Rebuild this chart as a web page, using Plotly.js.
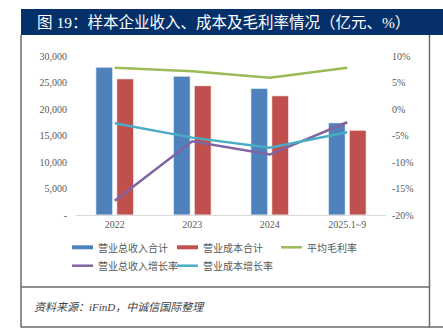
<!DOCTYPE html>
<html>
<head>
<meta charset="utf-8">
<script src="https://cdn.plot.ly/plotly-3.0.1.min.js"></script>
<style>
html,body{margin:0;padding:0;background:#fff;}
#chart{width:443px;height:329px;}
</style>
</head>
<body>
<div id="chart"></div>
<script>
// ---- data ----
const categories = ["2022", "2023", "2024", "2025.1~9"];
const revenueTotal = [27900, 26200, 23900, 17400];      // 营业总收入合计 (亿元)
const costTotal = [25700, 24400, 22500, 16000];         // 营业成本合计 (亿元)
const grossMargin = [7.8, 7.1, 5.9, 7.8];               // 平均毛利率 (%)
const revenueGrowth = [-17.3, -6.1, -8.6, -2.5];        // 营业总收入增长率 (%)
const costGrowth = [-2.7, -5.4, -7.3, -4.4];            // 营业成本增长率 (%)
const seriesNames = ["营业总收入合计", "营业成本合计", "平均毛利率", "营业总收入增长率", "营业成本增长率"];
const leftTickVals = [0, 5000, 10000, 15000, 20000, 25000, 30000];
const leftTickText = ["-", "5,000", "10,000", "15,000", "20,000", "25,000", "30,000"];
const rightTickVals = [-20, -15, -10, -5, 0, 5, 10];
const rightTickText = ["-20%", "-15%", "-10%", "-5%", "0%", "5%", "10%"];
const titleText = "图 19：样本企业收入、成本及毛利率情况（亿元、%）";
const sourceText = "资料来源：iFinD，中诚信国际整理";

// ---- styles ----
const colors = ["#4f81bd", "#c0504d", "#9bbb59", "#8064a2", "#4bacc6"];
const W = 443, H = 329;
const M = {l: 76, r: 57, t: 56, b: 114};
const PW = W - M.l - M.r, PH = H - M.t - M.b;
const px = x => (x - M.l) / PW;
const py = y => (H - M.b - y) / PH;
const tickFont = {family: "Liberation Serif, Noto Sans CJK SC, serif", size: 10, color: "#595959"};
const cjk = "Noto Sans CJK SC, Liberation Serif, sans-serif";

const traces = [
  {type: "bar", x: categories, y: revenueTotal, name: seriesNames[0],
   marker: {color: colors[0], line: {color: "#ffffff", width: 0.8}}, showlegend: false},
  {type: "bar", x: categories, y: costTotal, name: seriesNames[1],
   marker: {color: colors[1], line: {color: "#ffffff", width: 0.8}}, showlegend: false},
  {type: "scatter", mode: "lines", x: categories, y: grossMargin, yaxis: "y2", name: seriesNames[2],
   line: {color: colors[2], width: 2.5}, showlegend: false},
  {type: "scatter", mode: "lines", x: categories, y: revenueGrowth, yaxis: "y2", name: seriesNames[3],
   line: {color: colors[3], width: 2.5}, showlegend: false},
  {type: "scatter", mode: "lines", x: categories, y: costGrowth, yaxis: "y2", name: seriesNames[4],
   line: {color: colors[4], width: 2.5}, showlegend: false}
];

const shapes = [];
const annotations = [];
const border = "#6b6b6b";
// title bar
shapes.push({type: "rect", xref: "paper", yref: "paper", x0: px(21), x1: px(446), y0: py(35), y1: py(9),
  fillcolor: "#06306a", line: {width: 0}, layer: "below"});
// frame lines
shapes.push({type: "line", xref: "paper", yref: "paper", x0: px(21), x1: px(21), y0: py(35), y1: py(327.5), line: {color: border, width: 1.5}});
shapes.push({type: "line", xref: "paper", yref: "paper", x0: px(429.5), x1: px(429.5), y0: py(35), y1: py(327.5), line: {color: border, width: 1.5}});
shapes.push({type: "line", xref: "paper", yref: "paper", x0: px(21), x1: px(429.5), y0: py(287), y1: py(287), line: {color: border, width: 1.5}});
shapes.push({type: "line", xref: "paper", yref: "paper", x0: px(21), x1: px(446), y0: py(327), y1: py(327), line: {color: border, width: 1.5}});

annotations.push({xref: "paper", yref: "paper", x: px(35), y: py(22.5), xanchor: "left", yanchor: "middle",
  text: titleText, showarrow: false, font: {family: "Liberation Serif, Noto Sans CJK SC, serif", size: 15.5, color: "#ffffff"}});
annotations.push({xref: "paper", yref: "paper", x: px(32), y: py(307), xanchor: "left", yanchor: "middle",
  text: "<i>" + sourceText + "</i>", showarrow: false, font: {family: "Liberation Serif, Noto Sans CJK SC, serif", size: 11, color: "#404040"}});

// manual legend
const legCols = [72, 177, 281];
const legRows = [247.3, 265.7];
seriesNames.forEach((nm, i) => {
  const col = legCols[i % 3], row = legRows[Math.floor(i / 3)];
  const isBar = i < 2;
  shapes.push({type: "line", xref: "paper", yref: "paper", x0: px(col), x1: px(col + 21), y0: py(row), y1: py(row),
    line: {color: colors[i], width: isBar ? 4 : 2.5}});
  annotations.push({xref: "paper", yref: "paper", x: px(col + 23.5), y: py(row), xanchor: "left", yanchor: "middle",
    text: nm, showarrow: false, font: {family: cjk, size: 10, color: "#595959"}});
});

const layout = {
  width: W, height: H,
  margin: M,
  paper_bgcolor: "#ffffff", plot_bgcolor: "#ffffff",
  barmode: "group", bargap: 0.46, bargroupgap: 0.19,
  showlegend: false,
  xaxis: {type: "category", showgrid: false, zeroline: false, showline: true, linecolor: "#d9d9d9", linewidth: 1,
    ticks: "", tickfont: tickFont, fixedrange: true},
  yaxis: {range: [0, 30000], tickvals: leftTickVals, ticktext: leftTickText, showgrid: false, zeroline: false,
    showline: false, ticks: "", ticklabelstandoff: 8, tickfont: tickFont},
  yaxis2: {overlaying: "y", side: "right", range: [-20, 10], tickvals: rightTickVals, ticktext: rightTickText,
    showgrid: false, zeroline: false, showline: false, ticks: "", ticklabelstandoff: 5, tickfont: tickFont},
  shapes: shapes,
  annotations: annotations
};

Plotly.newPlot("chart", traces, layout, {displayModeBar: false, staticPlot: true});
</script>
</body>
</html>
